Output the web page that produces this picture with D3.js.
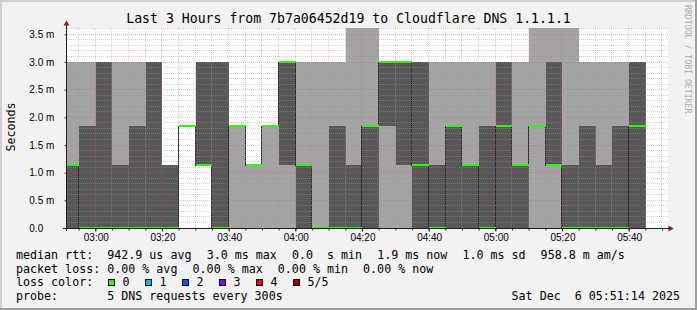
<!DOCTYPE html>
<html>
<head>
<meta charset="utf-8">
<script src="https://cdn.jsdelivr.net/npm/d3@7"></script>
<style>
  body { margin: 0; background: #f2f2f2; }
  svg { display: block; font-family: "DejaVu Sans Mono", monospace; }
  text { white-space: pre; }
</style>
</head>
<body>
<div class="chart"></div>
<script>
// 5-minute buckets (start time), 5 sorted DNS pings per bucket, in ms
var bucketStarts = ["02:50", "02:55", "03:00", "03:05", "03:10", "03:15", "03:20", "03:25", "03:30", "03:35",
  "03:40", "03:45", "03:50", "03:55", "04:00", "04:05", "04:10", "04:15", "04:20", "04:25",
  "04:30", "04:35", "04:40", "04:45", "04:50", "04:55", "05:00", "05:05", "05:10", "05:15",
  "05:20", "05:25", "05:30", "05:35", "05:40"];
var ping1 = [0, 0, 0, 0, 0, 0, 0, 1.84, 1.14, 0, 0, 0, 0, 0, 0, 0, 0, 0, 0, 0,
  0, 0, 0, 0, 0, 0, 0, 0, 0, 0, 0, 0, 0, 0, 0];
var ping2 = [0, 0, 0, 0, 0, 0, 0, 1.84, 1.14, 0, 1.84, 1.14, 1.84, 1.14, 0, 0, 0, 0, 0, 1.84,
  1.14, 0, 0, 0, 0, 0, 0, 0, 1.84, 1.14, 0, 0, 0, 0, 0];
var ping3 = [1.14, 0, 0, 0, 0, 0, 0, 1.84, 1.14, 0, 1.84, 1.14, 1.84, 3.0, 1.14, 0, 0, 0, 1.84, 3.0,
  3.0, 1.14, 0, 1.84, 1.14, 0, 1.84, 1.14, 1.84, 1.14, 0, 0, 0, 0, 1.84];
var ping4 = [1.14, 1.84, 3.0, 1.14, 1.84, 3.0, 1.14, 1.84, 3.0, 3.0, 1.84, 1.14, 1.84, 3.0, 1.14, 0, 1.84, 1.14, 1.84, 3.0,
  3.0, 3.0, 1.14, 1.84, 1.14, 1.84, 3.0, 1.14, 1.84, 3.0, 1.14, 1.84, 1.14, 1.84, 3.0];
var ping5 = [3.0, 3.0, 3.0, 3.0, 3.0, 3.0, 1.14, 1.84, 3.0, 3.0, 1.84, 1.14, 1.84, 3.0, 3.0, 3.0, 3.0, 3.7, 3.7, 3.0,
  3.0, 3.0, 3.0, 3.0, 3.0, 3.0, 3.0, 3.0, 3.7, 3.7, 3.7, 3.0, 3.0, 3.0, 3.0];

var lossLabels = ["0", "1", "2", "3", "4", "5/5"];
var lossColors = ["#26ff00", "#00b8ff", "#0059ff", "#7e00ff", "#ff0000", "#a10000"];

var rttLegend = ["median rtt:  942.9 us avg", "3.0 ms max", "0.0  s min", "1.9 ms now", "1.0 ms sd", "958.8 m am/s"];
var lossLegend = ["packet loss: 0.00 % avg", "0.00 % max", "0.00 % min", "0.00 % now"];

var title = "Last 3 Hours from 7b7a06452d19 to Cloudflare DNS 1.1.1.1";
var probeText = "probe:       5 DNS requests every 300s";
var stampText = "Sat Dec  6 05:51:14 2025";

var svgWidth = 697;
var svgHeight = 310;
var plot = { left: 66.6, right: 666.6, top: 28, bottom: 228 };

function t(hm) {
  var p = hm.split(":");
  return new Date(Date.UTC(2025, 11, 6, +p[0], +p[1]));
}
var step = 5 * 60 * 1000;
var tStart = new Date(Date.UTC(2025, 11, 6, 2, 51, 14));
var tEnd = new Date(Date.UTC(2025, 11, 6, 5, 51, 14));

var x = d3.scaleUtc().domain([tStart, tEnd]).range([plot.left, plot.right]);
var y = d3.scaleLinear().domain([0, 3.615]).range([plot.bottom, plot.top]);

var data = bucketStarts.map(function (s, i) {
  return { t0: t(s), t1: new Date(+t(s) + step), p: [ping1[i], ping2[i], ping3[i], ping4[i], ping5[i]] };
});

var svg = d3.select(".chart").append("svg")
  .attr("width", svgWidth)
  .attr("height", svgHeight);

// background and 3d frame
svg.append("rect").attr("width", svgWidth).attr("height", svgHeight).attr("fill", "#f2f2f2");
svg.append("rect").attr("width", svgWidth).attr("height", 2).attr("fill", "#cfcfcf");
svg.append("rect").attr("width", 2).attr("height", svgHeight).attr("fill", "#cfcfcf");
svg.append("rect").attr("y", svgHeight - 2).attr("width", svgWidth).attr("height", 2).attr("fill", "#9e9e9e");
svg.append("rect").attr("x", svgWidth - 2).attr("width", 2).attr("height", svgHeight).attr("fill", "#9e9e9e");

// canvas
svg.append("rect")
  .attr("x", 67).attr("y", plot.top)
  .attr("width", 601).attr("height", plot.bottom - plot.top)
  .attr("fill", "#ffffff");

svg.append("clipPath").attr("id", "clip")
  .append("rect")
  .attr("x", 67).attr("y", plot.top)
  .attr("width", 600).attr("height", plot.bottom - plot.top);

var chartGroup = svg.append("g").attr("clip-path", "url(#clip)").attr("shape-rendering", "crispEdges");

function xr(d) { return Math.round(x(d)); }
function yr(v) { return Math.round(y(v)); }

// smoke: outer pair (min..max) light, inner pair darker
chartGroup.selectAll(".smoke1")
  .data(data)
  .enter()
  .append("rect")
  .attr("x", d => xr(d.t0))
  .attr("width", d => xr(d.t1) - xr(d.t0))
  .attr("y", d => yr(d.p[4]))
  .attr("height", d => yr(d.p[0]) - yr(d.p[4]))
  .attr("fill", "#a4a4a4");

chartGroup.selectAll(".smoke2")
  .data(data)
  .enter()
  .append("rect")
  .attr("x", d => xr(d.t0))
  .attr("width", d => xr(d.t1) - xr(d.t0))
  .attr("y", d => yr(d.p[3]))
  .attr("height", d => yr(d.p[1]) - yr(d.p[3]))
  .attr("fill", "#585858");

// median line
var medPts = data.map(d => [xr(d.t0) - 0.5, yr(d.p[2]) + 0.5]);
medPts.push([xr(data[data.length - 1].t1) - 0.5, yr(data[data.length - 1].p[2]) + 0.5]);
chartGroup.append("path")
  .attr("d", d3.line().curve(d3.curveStepAfter)(medPts))
  .attr("fill", "none")
  .attr("stroke", "#1a1a1a")
  .attr("stroke-width", 1);

// loss coloured median marks
chartGroup.selectAll(".med")
  .data(data)
  .enter()
  .append("rect")
  .attr("x", d => xr(d.t0))
  .attr("width", d => xr(d.t1) - xr(d.t0))
  .attr("y", d => yr(d.p[2]) - 1)
  .attr("height", 2)
  .attr("fill", lossColors[0]);

// grid on top
var gridGroup = svg.append("g").attr("shape-rendering", "crispEdges");
var minorX = x.ticks(d3.utcMinute.every(5));
var majorX = x.ticks(d3.utcMinute.every(20));
var minorY = y.ticks(36);
var majorY = y.ticks(7);

function isMajorX(d) { return d.getUTCMinutes() % 20 === 0; }
function isMajorY(v) { return Math.abs(v * 2 - Math.round(v * 2)) < 1e-6; }

var gridMinor = "rgba(150,150,150,0.45)";
var gridMajor = "rgba(222,80,80,0.4)";

gridGroup.selectAll(".gy")
  .data(minorY.filter(v => v > 0))
  .enter()
  .append("line")
  .attr("x1", 67).attr("x2", 668)
  .attr("y1", v => Math.floor(y(v)) + 0.5)
  .attr("y2", v => Math.floor(y(v)) + 0.5)
  .attr("stroke", v => isMajorY(v) ? gridMajor : gridMinor)
  .attr("stroke-dasharray", "1,1");

gridGroup.selectAll(".gx")
  .data(minorX)
  .enter()
  .append("line")
  .attr("x1", d => xr(d) - 0.5)
  .attr("x2", d => xr(d) - 0.5)
  .attr("y1", plot.top).attr("y2", plot.bottom)
  .attr("stroke", d => isMajorX(d) ? gridMajor : gridMinor)
  .attr("stroke-dasharray", "1,1");

// axes
var minorAxis = d3.axisBottom(x).tickValues(minorX).tickSize(2).tickFormat("");
var majorAxis = d3.axisBottom(x).tickValues(majorX).tickSize(3).tickPadding(3)
  .tickFormat(d3.utcFormat("%H:%M"));

[minorAxis, majorAxis].forEach(function (ax) {
  var g = svg.append("g")
    .attr("transform", `translate(0, ${plot.bottom})`)
    .attr("font-family", "DejaVu Sans Mono")
    .attr("font-size", "10.2px")
    .call(ax);
  g.select(".domain").remove();
  g.selectAll("line").attr("stroke", "#1f1f1f").attr("transform", "translate(-0.5,0.5)");
  g.selectAll("text").attr("fill", "#000");
});

var leftAxis = d3.axisLeft(y).tickValues(majorY).tickSize(2).tickPadding(4)
  .tickFormat(v => v === 0 ? "0.0" : d3.format(".1f")(v) + " m");
var yAxis = svg.append("g")
  .attr("transform", `translate(${plot.left}, 0)`)
  .attr("font-family", "DejaVu Sans Mono")
  .attr("font-size", "10.2px")
  .call(leftAxis);
yAxis.select(".domain").remove();
yAxis.selectAll("line").attr("stroke", "#1f1f1f");
yAxis.selectAll("text").attr("text-anchor", "start").attr("x", -37.3).attr("fill", "#000");

// axis lines and arrows
svg.append("line")
  .attr("x1", 63).attr("x2", 670)
  .attr("y1", plot.bottom + 0.5).attr("y2", plot.bottom + 0.5)
  .attr("stroke", "#1f1f1f");
svg.append("line")
  .attr("x1", 66.5).attr("x2", 66.5)
  .attr("y1", 231).attr("y2", 24)
  .attr("stroke", "#1f1f1f");
svg.append("path")
  .attr("d", "M673.5,228.5 L668.5,225.5 L668.5,231.5 Z")
  .attr("fill", "#801f1f");
svg.append("path")
  .attr("d", "M66.5,20.5 L63.5,25.5 L69.5,25.5 Z")
  .attr("fill", "#801f1f");

// titles
svg.append("text")
  .attr("x", svgWidth / 2).attr("y", 23)
  .attr("text-anchor", "middle")
  .attr("font-size", "13.2px")
  .text(title);

svg.append("text")
  .attr("transform", "translate(14.5, 127) rotate(-90)")
  .attr("text-anchor", "middle")
  .attr("font-size", "11.67px")
  .text("Seconds");

svg.append("text")
  .attr("transform", "translate(684.5, 5) rotate(90)")
  .attr("font-size", "8.2px")
  .attr("fill", "#ababab")
  .text("RRDTOOL / TOBI OETIKER");

// legend
var fs = 11.67, cw = fs * 0.602, gap = 15;
function legendRow(items, yy) {
  var xx = 16;
  items.forEach(function (s) {
    svg.append("text").attr("x", xx).attr("y", yy).attr("font-size", fs + "px").text(s);
    xx += s.length * cw + gap;
  });
}
legendRow(rttLegend, 259);
legendRow(lossLegend, 272.7);

svg.append("text").attr("x", 16).attr("y", 286.4).attr("font-size", fs + "px").text("loss color:");
lossLabels.forEach(function (l, i) {
  var bx = 108.5 + i * 37;
  svg.append("rect")
    .attr("x", bx).attr("y", 279.5)
    .attr("width", 6).attr("height", 6)
    .attr("fill", lossColors[i])
    .attr("stroke", "#000")
    .attr("shape-rendering", "crispEdges");
  svg.append("text").attr("x", bx + 14).attr("y", 286.4).attr("font-size", fs + "px").text(l);
});

svg.append("text").attr("x", 16).attr("y", 300.1).attr("font-size", fs + "px").text(probeText);
svg.append("text").attr("x", 680).attr("y", 300.1).attr("text-anchor", "end")
  .attr("font-size", fs + "px").text(stampText);
</script>
</body>
</html>
